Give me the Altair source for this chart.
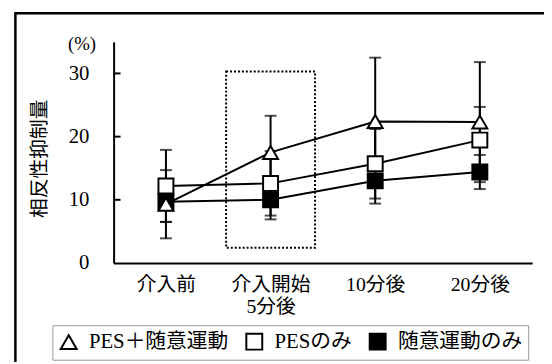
import altair as alt
import pandas as pd

# ---- data ----
time_labels = ["介入前", ["介入開始", "5分後"], "10分後", "20分後"]
time_idx = [0, 1, 2, 3]
series = ["PES＋随意運動", "PESのみ", "随意運動のみ"]
mean_pes_vol = [9.3, 17.5, 22.4, 22.3]
sd_pes_vol = [5.4, 5.8, 10.1, 9.5]
mean_pes = [12.2, 12.6, 15.7, 19.45]
sd_pes = [5.7, 5.1, 5.5, 5.25]
mean_vol = [9.7, 10.0, 13.0, 14.4]
sd_vol = [3.2, 3.1, 3.6, 2.7]
y_ticks = [0, 10, 20, 30]
box_x = [0.575, 1.425]
box_y = [2.4, 30.3]

means = [mean_pes_vol, mean_pes, mean_vol]
sds = [sd_pes_vol, sd_pes, sd_vol]
rows = []
for si, s in enumerate(series):
    for ti in time_idx:
        m, sd = means[si][ti], sds[si][ti]
        rows.append({"series": s, "x": ti, "mean": m,
                     "lo": m - sd, "hi": m + sd})
df = pd.DataFrame(rows)
z_order = {series[0]: 3, series[1]: 2, series[2]: 1}
df["z"] = df["series"].map(z_order)

FONT = "Liberation Serif, Noto Sans CJK JP"

def lab(v):
    if isinstance(v, list):
        return "[" + ",".join("'" + s + "'" for s in v) + "]"
    return "'" + v + "'"

label_expr = " : ".join(
    f"datum.value == {i} ? {lab(l)}" for i, l in enumerate(time_labels)
) + " : ''"

xscale = alt.Scale(domain=[-0.5, 3.5], nice=False, zero=False)
yscale = alt.Scale(domain=[0, 35], nice=False)

xaxis = alt.Axis(values=time_idx, labelExpr=label_expr, ticks=False, grid=False,
                 domainColor="black", domainWidth=2, labelFont=FONT,
                 labelFontSize=20, labelColor="black", labelPadding=12,
                 labelLineHeight=22, title=None, labelAngle=0)
yaxis = alt.Axis(values=y_ticks, ticks=False, grid=False, domainColor="black",
                 domainWidth=2, labelFont=FONT, labelFontSize=21,
                 labelColor="black", labelPadding=25,
                 title="相反性抑制量", titleFont="Noto Sans CJK JP",
                 titleFontWeight="normal", titleFontSize=20, titleColor="black",
                 titleX=-75, titleY=118, titleAngle=270, titleAlign="center",
                 titleBaseline="middle")

base = alt.Chart(df)

one = pd.DataFrame({"a": [0]})
frame = alt.Chart(one).mark_rect(fillOpacity=0, stroke="black", strokeWidth=2.5).encode(
    x=alt.value(-99.5), x2=alt.value(700), y=alt.value(-29), y2=alt.value(500))

pct = alt.Chart(one).mark_text(text="(%)", font=FONT, fontSize=19, color="black").encode(
    x=alt.value(-32), y=alt.value(2))

boxdf = pd.DataFrame({"x0": [box_x[0]], "x1": [box_x[1]], "y0": [box_y[0]], "y1": [box_y[1]]})
box = alt.Chart(boxdf).mark_rect(fillOpacity=0, stroke="black", strokeWidth=2,
                                 strokeDash=[2, 2]).encode(
    x=alt.X("x0:Q", scale=xscale, axis=xaxis), x2="x1",
    y=alt.Y("y0:Q", scale=yscale, axis=yaxis), y2="y1")

tickdf = pd.DataFrame({"t": y_ticks[1:]})
yt = alt.Chart(tickdf).mark_rule(color="black", strokeWidth=2).encode(
    y=alt.Y("t:Q", scale=yscale), x=alt.value(0), x2=alt.value(7))

err = base.mark_rule(color="black", strokeWidth=2).encode(
    x=alt.X("x:Q", scale=xscale), y=alt.Y("lo:Q", scale=yscale), y2="hi")
cap_lo = base.mark_tick(orient="horizontal", color="black", size=12, thickness=2).encode(
    x=alt.X("x:Q", scale=xscale), y=alt.Y("lo:Q", scale=yscale))
cap_hi = base.mark_tick(orient="horizontal", color="black", size=12, thickness=2).encode(
    x=alt.X("x:Q", scale=xscale), y=alt.Y("hi:Q", scale=yscale))

lines = base.mark_line(color="black", strokeWidth=2).encode(
    x=alt.X("x:Q", scale=xscale), y=alt.Y("mean:Q", scale=yscale),
    detail="series:N")

leg = alt.Legend(title=None, orient="none", legendX=-62, legendY=287,
                 direction="horizontal", symbolStrokeColor="black",
                 symbolStrokeWidth=2)
pts = base.mark_point(filled=False, strokeWidth=2, opacity=1, size=230).encode(
    x=alt.X("x:Q", scale=xscale), y=alt.Y("mean:Q", scale=yscale),
    shape=alt.Shape("series:N", scale=alt.Scale(domain=series,
                    range=["triangle-up", "square", "square"]), legend=leg),
    fill=alt.Fill("series:N", scale=alt.Scale(domain=series,
                  range=["white", "white", "black"]), legend=leg),
    stroke=alt.Stroke("series:N", scale=alt.Scale(domain=series,
                      range=["black", "black", "black"]), legend=leg),
    order=alt.Order("z:Q"))

chart = alt.layer(frame, box, yt, err, cap_lo, cap_hi, lines, pts, pct).properties(
    width=424, height=224,
    autosize=alt.AutoSizeParams(type="none"),
    padding={"left": 107, "top": 32, "right": 12, "bottom": 98},
    background="white",
).configure_view(stroke=None).configure_legend(
    labelFont=FONT, labelFontSize=21, labelColor="black",
    symbolSize=260, symbolStrokeColor="black", symbolStrokeWidth=2,
    strokeColor="#999999", padding=6, columnPadding=13, labelOffset=10,
    symbolOpacity=1, labelLimit=300,
)

chart.save("out.html", embed_options={"renderer": "svg", "actions": False})
